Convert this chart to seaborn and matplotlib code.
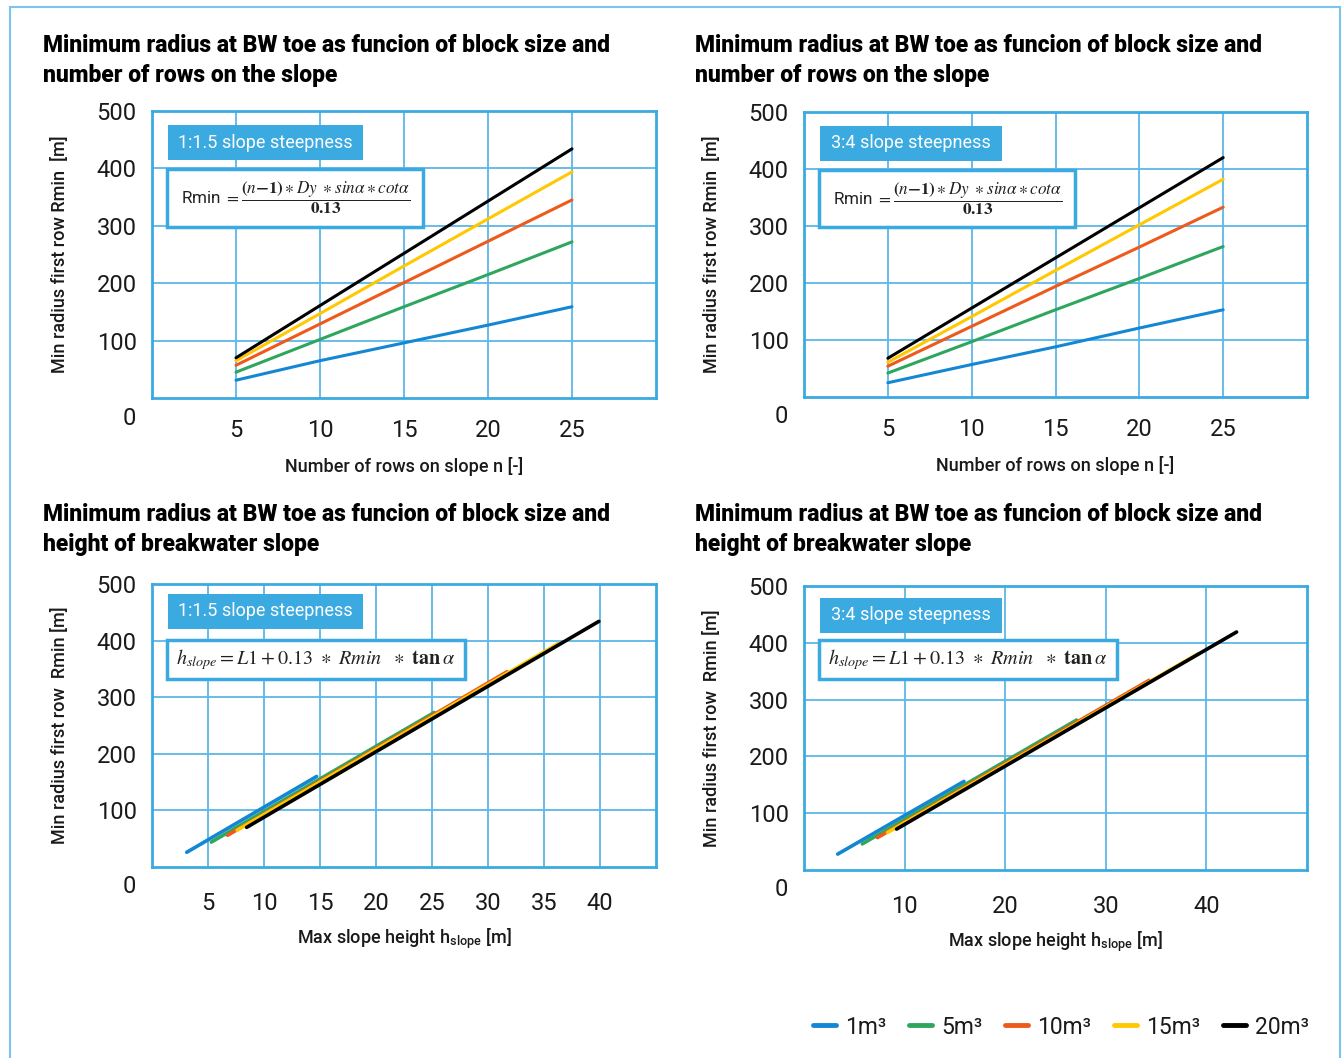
import numpy as np
import pandas as pd
import matplotlib
matplotlib.use("Agg")
import matplotlib.pyplot as plt
from matplotlib.patches import Rectangle
import seaborn as sns

# block sizes and colours
blocks = ["1m³", "5m³", "10m³", "15m³", "20m³"]
colors = ["#1487D4", "#2EA65E", "#EE5A1C", "#FFC800", "#000000"]

# number of rows on slope
n_rows = [5, 10, 15, 20, 25]

# Rmin [m] for 1:1.5 slope, per block size
r15_1 = [31, 65, 96, 127, 159]
r15_5 = [45, 102, 159, 215, 272]
r15_10 = [57, 129, 201, 273, 345]
r15_15 = [65, 147, 230, 312, 394]
r15_20 = [70, 161, 252, 343, 434]

# Rmin [m] for 3:4 slope, per block size
r34_1 = [25, 57, 88, 121, 153]
r34_5 = [42, 97, 153, 208, 264]
r34_10 = [54, 124, 194, 263, 333]
r34_15 = [61, 141, 222, 302, 382]
r34_20 = [68, 156, 244, 332, 420]

# slope height vs Rmin (line end points), 1:1.5
h15_h = [[3.1, 14.7], [5.3, 25.2], [6.75, 31.7], [7.6, 36.3], [8.45, 39.9]]
h15_r = [[26, 160], [44, 273], [56, 345], [65, 395], [70, 434]]

# slope height vs Rmin (line end points), 3:4
h34_h = [[3.35, 15.9], [5.8, 27.1], [7.3, 34.3], [8.3, 39.2], [9.2, 43.0]]
h34_r = [[28, 156], [46, 264], [57, 334], [66, 381], [72, 419]]

title_1 = "Minimum radius at BW toe as funcion of block size and"
title_2_top = "number of rows on the slope"
title_2_bot = "height of breakwater slope"

BLUE = "#3AAAE1"
GRID = "#5DB8E8"
TXT = "#1a1a1a"

sns.set_theme(style="white")
plt.rcParams["font.family"] = ["Roboto", "DejaVu Sans"]
plt.rcParams["mathtext.fontset"] = "stix"


def long_df(xs, ys):
    rows = []
    for b, xv, yv in zip(blocks, xs, ys):
        for a, r in zip(xv, yv):
            rows.append({"x": a, "R": r, "block": b})
    return pd.DataFrame(rows)


def style_axis(ax, xlim, xticks):
    ax.set_xlim(*xlim)
    ax.set_ylim(0, 500)
    ax.set_xticks(xticks)
    ax.set_yticks([100, 200, 300, 400, 500])
    ax.grid(True, color=GRID, lw=1.3)
    ax.set_axisbelow(True)
    for s in ax.spines.values():
        s.set_color(BLUE)
        s.set_linewidth(2.0)
    ax.tick_params(axis="both", length=0, labelsize=17, labelcolor=TXT)
    ax.tick_params(axis="y", pad=11)
    ax.text(-0.046, -0.07, "0", transform=ax.transAxes, ha="center",
            va="center", fontsize=17, color=TXT)


def steep_box(ax, x0, x1, y0, y1, label):
    ax.add_patch(Rectangle((x0, y0), x1 - x0, y1 - y0, transform=ax.transAxes,
                           fc=BLUE, ec="none", zorder=5))
    ax.text((x0 + x1) / 2, (y0 + y1) / 2, label, transform=ax.transAxes,
            ha="center", va="center", color="white", fontsize=13, zorder=6)


def formula_box(ax, x0, x1, y0, y1, txt, size):
    ax.add_patch(Rectangle((x0, y0), x1 - x0, y1 - y0, transform=ax.transAxes,
                           fc="white", ec=BLUE, lw=2.5, zorder=5))
    ax.text((x0 + x1) / 2, (y0 + y1) / 2, txt, transform=ax.transAxes,
            ha="center", va="center", color="#222222", fontsize=size, zorder=6)


fig = plt.figure(figsize=(13.44, 10.58), dpi=100)
W, H = 1344.0, 1058.0

ax_tl = fig.add_axes([152 / W, 1 - 398 / H, 504 / W, 287 / H])
ax_tr = fig.add_axes([804 / W, 1 - 397 / H, 503 / W, 285 / H])
ax_bl = fig.add_axes([152 / W, 1 - 867 / H, 504 / W, 283 / H])
ax_br = fig.add_axes([804 / W, 1 - 870 / H, 503 / W, 284 / H])

pal = dict(zip(blocks, colors))

df_tl = long_df([n_rows] * 5, [r15_1, r15_5, r15_10, r15_15, r15_20])
df_tr = long_df([n_rows] * 5, [r34_1, r34_5, r34_10, r34_15, r34_20])
df_bl = long_df(h15_h, h15_r)
df_br = long_df(h34_h, h34_r)

sns.lineplot(data=df_tl, x="x", y="R", hue="block", palette=pal, lw=2.2,
             ax=ax_tl, legend=True)
handles, labels = ax_tl.get_legend_handles_labels()
ax_tl.get_legend().remove()
sns.lineplot(data=df_tr, x="x", y="R", hue="block", palette=pal, lw=2.2,
             ax=ax_tr, legend=False)
sns.lineplot(data=df_bl, x="x", y="R", hue="block", palette=pal, lw=2.6,
             ax=ax_bl, legend=False)
sns.lineplot(data=df_br, x="x", y="R", hue="block", palette=pal, lw=2.6,
             ax=ax_br, legend=False)

style_axis(ax_tl, (0, 30), [5, 10, 15, 20, 25])
style_axis(ax_tr, (0, 30), [5, 10, 15, 20, 25])
style_axis(ax_bl, (0, 45), [5, 10, 15, 20, 25, 30, 35, 40])
style_axis(ax_br, (0, 50), [10, 20, 30, 40])

for ax in (ax_tl, ax_tr):
    ax.tick_params(axis="x", pad=15)
    ax.set_xlabel("Number of rows on slope n [-]", fontsize=13, color=TXT,
                  fontweight="medium", labelpad=11)
    ax.set_ylabel("Min radius first row Rmin  [m]", fontsize=13, color=TXT,
                  fontweight="medium", labelpad=20)
for ax in (ax_bl, ax_br):
    ax.tick_params(axis="x", pad=18)
    ax.set_xlabel(r"Max slope height h$_{\mathregular{slope}}$ [m]",
                  fontsize=13, color=TXT, fontweight="medium", labelpad=8)
    ax.set_ylabel("Min radius first row  Rmin [m]", fontsize=13, color=TXT,
                  fontweight="medium", labelpad=20)

steep_box(ax_tl, 0.032, 0.419, 0.829, 0.951, "1:1.5 slope steepness")
steep_box(ax_tr, 0.032, 0.394, 0.829, 0.951, "3:4 slope steepness")
steep_box(ax_bl, 0.032, 0.419, 0.841, 0.965, "1:1.5 slope steepness")
steep_box(ax_br, 0.032, 0.394, 0.835, 0.958, "3:4 slope steepness")

f_top = (r"Rmin $= \dfrac{\mathbf{(}\mathbf{\mathit{n}}\mathbf{-1)}\ast "
         r"\mathbf{\mathit{Dy}}\ \ast\mathbf{\mathit{sin\alpha}}\ast"
         r"\mathbf{\mathit{cot\alpha}}}{\mathbf{0.13}}$")
f_bot = (r"$h_{slope} = L1 + \mathrm{0.13}\ \ast\ Rmin\ \ \ast\ "
         r"\mathbf{tan}\,\alpha$")
formula_box(ax_tl, 0.030, 0.538, 0.596, 0.798, f_top, 12.3)
formula_box(ax_tr, 0.030, 0.539, 0.596, 0.798, f_top, 12.3)
formula_box(ax_bl, 0.030, 0.621, 0.664, 0.802, f_bot, 14.5)
formula_box(ax_br, 0.030, 0.622, 0.673, 0.810, f_bot, 14.5)

# titles
for x0, y1, line2 in [(43, 52, title_2_top), (695, 52, title_2_top),
                      (43, 521, title_2_bot), (695, 521, title_2_bot)]:
    fig.text(x0 / W, 1 - y1 / H, title_1, fontsize=16.5, fontweight="black",
             color="black", va="baseline", ha="left")
    fig.text(x0 / W, 1 - (y1 + 30) / H, line2, fontsize=16.5,
             fontweight="black", color="black", va="baseline", ha="left")

# legend
for h in handles:
    h.set_linewidth(3.5)
leg = fig.legend(handles, labels, loc="center",
                 bbox_to_anchor=(1061 / W, 1 - 1027 / H), ncol=5,
                 frameon=False, fontsize=16.5, handlelength=1.0,
                 handletextpad=0.4, columnspacing=1.0)
for t in leg.get_texts():
    t.set_color(TXT)

# outer frame
fig.add_artist(Rectangle((10 / W, -0.05), 1330 / W, 1 - 7 / H + 0.05,
                         transform=fig.transFigure, fill=False,
                         ec="#7CC4EC", lw=1.5, clip_on=False))

fig.savefig("out.png", dpi=100)
